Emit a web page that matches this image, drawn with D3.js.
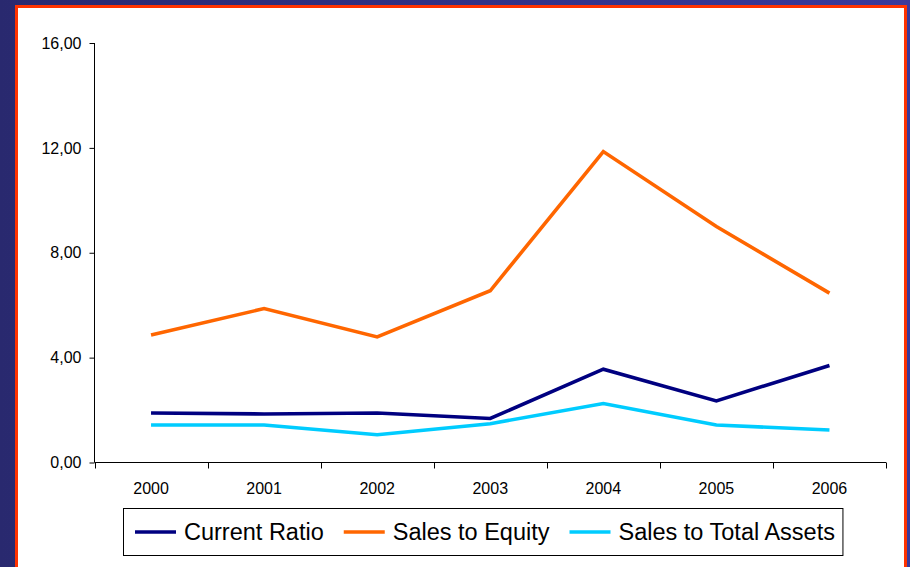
<!DOCTYPE html>
<html>
<head>
<meta charset="utf-8">
<script src="https://cdn.jsdelivr.net/npm/d3@7"></script>
<style>
  body { margin: 0; padding: 0; overflow: hidden; }
  svg { display: block; font-family: "Liberation Sans", Arial, sans-serif; }
</style>
</head>
<body>
<div id="chart"></div>
<script>
// values
var years = ["2000", "2001", "2002", "2003", "2004", "2005", "2006"];
var currentRatio = [1.89, 1.85, 1.89, 1.68, 3.56, 2.35, 3.70];
var salesToEquity = [4.86, 5.87, 4.79, 6.55, 11.86, 9.00, 6.46];
var salesToAssets = [1.43, 1.43, 1.06, 1.48, 2.25, 1.43, 1.24];
var yTicks = [0, 4, 8, 12, 16];

var seriesNames = ["Current Ratio", "Sales to Equity", "Sales to Total Assets"];
var seriesColors = ["#000080", "#ff6600", "#00ccff"];
var series = [currentRatio, salesToEquity, salesToAssets];

var width = 910, height = 567;

var svg = d3.select("#chart")
	.append("svg")
	.attr("width", width)
	.attr("height", height);

// navy slide background
var grad = svg.append("defs").append("linearGradient")
	.attr("id", "bg")
	.attr("x1", "0").attr("x2", "1").attr("y1", "0").attr("y2", "0");
grad.append("stop").attr("offset", "0").attr("stop-color", "#29296f");
grad.append("stop").attr("offset", "1").attr("stop-color", "#3a3a9c");

svg.append("rect")
	.attr("width", width)
	.attr("height", height)
	.attr("fill", "url(#bg)");

// white chart panel with orange frame
svg.append("rect")
	.attr("x", 16.5)
	.attr("y", 6.5)
	.attr("width", 889)
	.attr("height", 580)
	.attr("fill", "#fff")
	.attr("stroke", "#ff3300")
	.attr("stroke-width", 3);

var x = d3.scaleBand()
	.domain(years)
	.range([94.5, 886]);

var y = d3.scaleLinear()
	.domain([0, 16])
	.range([462.5, 43]);

var comma = d3.formatLocale({decimal: ",", thousands: ".", grouping: [3], currency: ["", ""]}).format(".2f");

// y axis
var yAxis = svg.append("g")
	.attr("transform", "translate(94.5,0)")
	.call(d3.axisLeft(y).tickValues(yTicks).tickSize(5).tickPadding(8).tickFormat(comma));
yAxis.select(".domain").attr("d", "M0," + y(16) + "V" + y(0)).attr("stroke", "#000");
yAxis.selectAll(".tick line").attr("stroke", "#000").attr("x1", -5).attr("x2", 0);
yAxis.selectAll(".tick text")
	.attr("fill", "#000")
	.style("font-size", "16px");

// x axis, ticks sit between the categories
var xAxis = svg.append("g")
	.attr("transform", "translate(0," + y(0) + ")");
xAxis.append("line")
	.attr("x1", 94.5).attr("x2", 886)
	.attr("stroke", "#000");
var tickPos = years.map(function(d) { return x(d); }).concat([x(years[years.length - 1]) + x.bandwidth()]);
xAxis.selectAll(".xtick")
	.data(tickPos)
	.enter().append("line")
	.attr("class", "xtick")
	.attr("x1", function(d) { return Math.round(d) + 0.5; })
	.attr("x2", function(d) { return Math.round(d) + 0.5; })
	.attr("y1", 0)
	.attr("y2", 6)
	.attr("stroke", "#000");
xAxis.selectAll(".xlabel")
	.data(years)
	.enter().append("text")
	.attr("class", "xlabel")
	.attr("x", function(d) { return x(d) + x.bandwidth() / 2; })
	.attr("y", 31.5)
	.attr("text-anchor", "middle")
	.style("font-size", "16px")
	.text(function(d) { return d; });

// lines
var line = d3.line()
	.x(function(d, i) { return x(years[i]) + x.bandwidth() / 2; })
	.y(function(d) { return y(d); });

svg.selectAll(".series")
	.data(series)
	.enter().append("path")
	.attr("class", "series")
	.attr("d", line)
	.attr("fill", "none")
	.attr("stroke", function(d, i) { return seriesColors[i]; })
	.attr("stroke-width", 3.6)
	.attr("stroke-linejoin", "miter");

// legend
var legend = svg.append("g");
var legendBox = legend.append("rect")
	.attr("x", 123.5)
	.attr("y", 508.5)
	.attr("height", 47)
	.attr("fill", "#fff")
	.attr("stroke", "#000");

var lx = 135;
seriesNames.forEach(function(name, i) {
	legend.append("line")
		.attr("x1", lx).attr("x2", lx + 41)
		.attr("y1", 532).attr("y2", 532)
		.attr("stroke", seriesColors[i])
		.attr("stroke-width", 3.6);
	var t = legend.append("text")
		.attr("x", lx + 49)
		.attr("y", 540)
		.style("font-size", "23.5px")
		.text(name);
	lx += 49 + t.node().getComputedTextLength() + 20;
});
legendBox.attr("width", lx - 20 + 8 - 123.5);
</script>
</body>
</html>
